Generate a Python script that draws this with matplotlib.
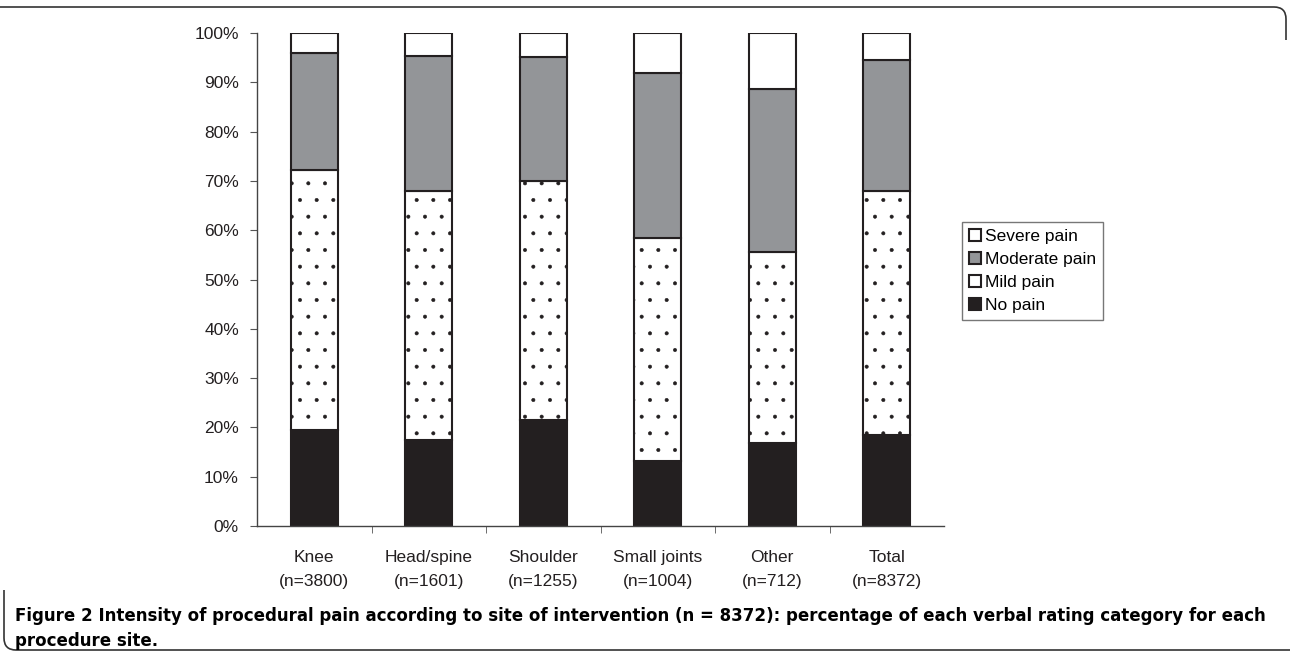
import numpy as np
import matplotlib
matplotlib.use("Agg")
import matplotlib.pyplot as plt
from matplotlib.patches import Patch, PathPatch
from matplotlib.path import Path

plt.rcParams['font.family'] = ['Liberation Sans', 'DejaVu Sans']
plt.rcParams['hatch.linewidth'] = 0.4
plt.rcParams['hatch.color'] = '#666666'

# data (percent of patients)
sites = ["Knee", "Head/spine", "Shoulder", "Small joints", "Other", "Total"]
ns = [3800, 1601, 1255, 1004, 712, 8372]
no_pain = [19.5, 17.5, 21.6, 13.1, 16.9, 18.4]
mild_pain = [52.8, 50.5, 48.4, 45.3, 38.6, 49.6]
moderate_pain = [23.6, 27.4, 25.2, 33.5, 33.2, 26.6]
severe_pain = [4.1, 4.6, 4.8, 8.1, 11.3, 5.4]

edge = '#231f20'
fig = plt.figure(figsize=(12.9, 6.53), dpi=100)
ax = fig.add_axes([257/1290, 1-526/653, (944-257)/1290, (526-33)/653])

x = np.arange(len(sites))
w = 0.41
b1 = np.array(no_pain)
b2 = b1 + np.array(mild_pain)
b3 = b2 + np.array(moderate_pain)
ax.bar(x, no_pain, w, color=edge, edgecolor=edge, lw=1.5)
ax.bar(x, mild_pain, w, bottom=b1, color='white', edgecolor=edge, lw=1.5, hatch='.')
ax.bar(x, moderate_pain, w, bottom=b2, color='#939598', edgecolor=edge, lw=1.5)
ax.bar(x, severe_pain, w, bottom=b3, color='white', edgecolor=edge, lw=1.5)

ax.set_xlim(-0.5, len(sites) - 0.5)
ax.set_ylim(0, 100)
ax.set_yticks(np.arange(0, 101, 10))
ax.set_yticklabels(["%d%%" % v for v in range(0, 101, 10)], fontsize=12.5, color='#231f20')
ax.set_xticks(x)
ax.set_xticklabels(["%s\n(n=%d)" % (s, n) for s, n in zip(sites, ns)], fontsize=12.5,
                   color='#231f20', linespacing=1.75)
ax.set_xticks(np.arange(0.5, len(sites) - 0.5, 1), minor=True)
ax.tick_params(axis='x', which='major', length=0, pad=17)
ax.tick_params(axis='x', which='minor', length=5, direction='out', color='#555555')
ax.tick_params(axis='y', length=5, direction='out', color='#555555', pad=8)
for s in ['top', 'right']:
    ax.spines[s].set_visible(False)
for s in ['left', 'bottom']:
    ax.spines[s].set_color('#444444')
    ax.spines[s].set_linewidth(1.0)

handles = [Patch(facecolor='white', edgecolor=edge, lw=1.5, label='Severe pain'),
           Patch(facecolor='#939598', edgecolor=edge, lw=1.5, label='Moderate pain'),
           Patch(facecolor='white', edgecolor=edge, lw=1.5, label='Mild pain'),
           Patch(facecolor=edge, edgecolor=edge, lw=1.5, label='No pain')]
leg = fig.legend(handles=handles, loc='upper left', bbox_to_anchor=(962/1290, 1-222/653),
                 fontsize=12.5, frameon=True, fancybox=False, handlelength=0.7,
                 handleheight=0.7, handletextpad=0.2, labelspacing=0.45,
                 borderpad=0.4, borderaxespad=0)
leg.get_frame().set_edgecolor('#555555')
leg.get_frame().set_linewidth(1.0)

# caption
fig.text(15/1290, 1-616/653, "Figure 2 Intensity of procedural pain according to site of intervention (n = 8372): "
         "percentage of each verbal rating category for each",
         fontsize=13.3, fontweight='bold', va='center', ha='left', family='DejaVu Sans',
         fontstretch='condensed')
fig.text(15/1290, 1-641/653, "procedure site.", fontsize=13.3, fontweight='bold',
         va='center', ha='left', family='DejaVu Sans', fontstretch='condensed')

# partial rounded frame: top edge with top-right corner, bottom-left corner
W, H = 1290.0, 653.0
top = Path([(0, H-7), (1274, H-7), (1286, H-7), (1286, H-19), (1286, H-40)],
           [Path.MOVETO, Path.LINETO, Path.CURVE3, Path.CURVE3, Path.LINETO])
bot = Path([(4, H-590), (4, 15), (4, 3), (16, 3), (1290, 3)],
           [Path.MOVETO, Path.LINETO, Path.CURVE3, Path.CURVE3, Path.LINETO])
for p in (top, bot):
    pp = PathPatch(Path(np.c_[p.vertices[:, 0] / W, p.vertices[:, 1] / H], p.codes),
                   transform=fig.transFigure, fill=False, edgecolor='#333333', lw=1.2)
    fig.patches.append(pp)

fig.savefig("out.png", dpi=100)
